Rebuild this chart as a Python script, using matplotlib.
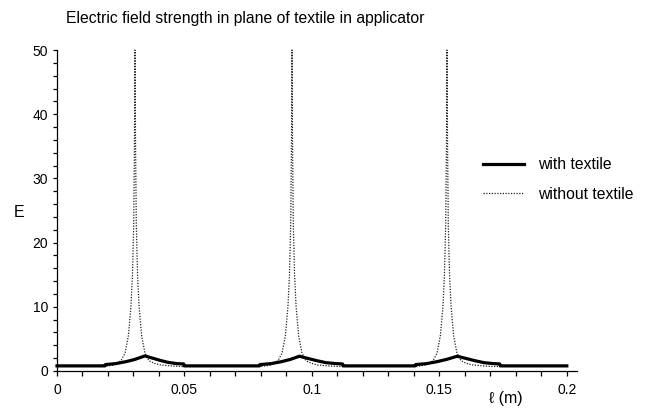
import matplotlib
matplotlib.use("Agg")
import matplotlib.pyplot as plt
from matplotlib.ticker import MultipleLocator, FixedLocator, FixedFormatter

plt.rcParams['font.family'] = ['Liberation Sans', 'DejaVu Sans']

# field strength with the textile in place (m, V/m scale of the plot)
with_x = [0.0, 0.0188, 0.0190, 0.0230, 0.0270, 0.0305, 0.0345, 0.0375, 0.0405,
          0.0435, 0.0470, 0.0497, 0.0499,
          0.0794, 0.0796, 0.0840, 0.0880, 0.0915, 0.0951, 0.0985, 0.1020,
          0.1055, 0.1095, 0.1120, 0.1122,
          0.1405, 0.1407, 0.1450, 0.1490, 0.1528, 0.1570, 0.1605, 0.1640,
          0.1675, 0.1712, 0.1737, 0.1739, 0.2]
with_E = [0.8, 0.8, 1.0, 1.15, 1.45, 1.8, 2.35, 2.0, 1.65,
          1.35, 1.15, 1.1, 0.8,
          0.8, 1.0, 1.15, 1.45, 1.8, 2.3, 1.95, 1.6,
          1.3, 1.15, 1.1, 0.8,
          0.8, 1.0, 1.15, 1.45, 1.8, 2.3, 1.95, 1.6,
          1.3, 1.15, 1.1, 0.8, 0.8]

# empty applicator: sharp resonances
without_x = [0.0,
             0.0186, 0.0226, 0.0251, 0.0267, 0.0280, 0.0290, 0.0296, 0.0301, 0.0304,
             0.0306, 0.0308, 0.0311, 0.0316, 0.0322, 0.0332, 0.0345, 0.0361, 0.0381,
             0.0406, 0.0446, 0.0486,
             0.0802, 0.0842, 0.0867, 0.0883, 0.0896, 0.0906, 0.0912, 0.0917, 0.0920,
             0.0922, 0.0924, 0.0927, 0.0932, 0.0938, 0.0948, 0.0961, 0.0977, 0.0997,
             0.1022, 0.1062, 0.1102,
             0.1410, 0.1450, 0.1475, 0.1491, 0.1504, 0.1514, 0.1520, 0.1525, 0.1528,
             0.1530, 0.1532, 0.1535, 0.1540, 0.1546, 0.1556, 0.1569, 0.1585, 0.1605,
             0.1630, 0.1670, 0.1710,
             0.2]
without_E = [0.7,
             0.7, 0.95, 1.6, 2.8, 5.5, 10, 15, 23, 36,
             50, 36, 23, 15, 10, 5.5, 2.8, 1.6, 1.2,
             0.95, 0.8, 0.7,
             0.7, 0.95, 1.6, 2.8, 5.5, 10, 15, 23, 36,
             50, 36, 23, 15, 10, 5.5, 2.8, 1.6, 1.2,
             0.95, 0.8, 0.7,
             0.7, 0.95, 1.6, 2.8, 5.5, 10, 15, 23, 36,
             50, 36, 23, 15, 10, 5.5, 2.8, 1.6, 1.2,
             0.95, 0.8, 0.7,
             0.7]

x_ticks = [0, 0.05, 0.1, 0.15, 0.2]
x_labels = ['0', '0.05', '0.1', '0.15', '0.2']

fig = plt.figure(figsize=(6.48, 4.08), dpi=100)
ax = fig.add_axes([57 / 648, 1 - 371 / 408, 520 / 648, 321 / 408])

ax.plot(without_x, without_E, color='#222222', linewidth=0.9,
        linestyle=(0, (1, 1.2)), label='without textile', clip_on=False)
ax.plot(with_x, with_E, color='black', linewidth=2.3,
        label='with textile', clip_on=False)

ax.set_xlim(0, 0.204)
ax.set_ylim(0, 50)

for side in ['top', 'right']:
    ax.spines[side].set_visible(False)
for side in ['left', 'bottom']:
    ax.spines[side].set_linewidth(0.9)

ax.xaxis.set_major_locator(FixedLocator(x_ticks))
ax.xaxis.set_major_formatter(FixedFormatter(x_labels))
ax.xaxis.set_minor_locator(MultipleLocator(0.01))
ax.yaxis.set_major_locator(MultipleLocator(10))
ax.yaxis.set_minor_locator(MultipleLocator(2))

ax.tick_params(axis='x', which='both', direction='out', length=3.6, width=0.9,
               pad=5, labelsize=10)
ax.tick_params(axis='y', which='both', direction='out', length=3.0, width=0.9,
               pad=3.5, labelsize=10)
ax.tick_params(colors='black')

fig.text(66 / 648, 1 - 18 / 408, 'Electric field strength in plane of textile in applicator',
         fontsize=11.3, ha='left', va='center')
fig.text(19 / 648, 1 - 212 / 408, 'E', fontsize=11.5, ha='center', va='center')
fig.text(506 / 648, 1 - 399 / 408, 'ℓ (m)', fontsize=11.5, ha='center', va='center')

# legend order: solid first
handles, labels = ax.get_legend_handles_labels()
ax.legend(handles[::-1], labels[::-1], loc='upper left',
          bbox_to_anchor=(483 / 648, 1 - 157 / 408), bbox_transform=fig.transFigure,
          frameon=False, fontsize=11.3, handlelength=2.6, handletextpad=0.9,
          labelspacing=0.95, borderpad=0, borderaxespad=0)

fig.savefig('out.png', dpi=100)
